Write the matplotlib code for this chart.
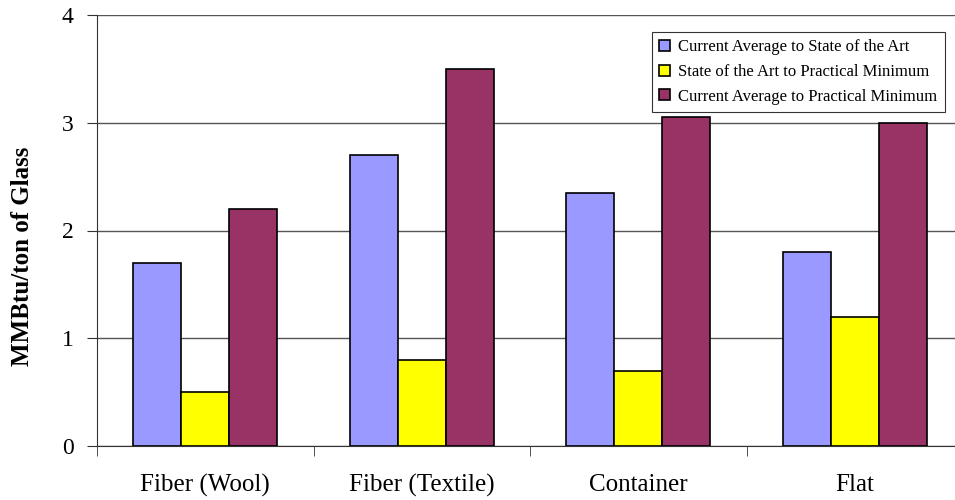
import matplotlib.pyplot as plt
import numpy as np

categories = ["Fiber (Wool)", "Fiber (Textile)", "Container", "Flat"]
series_names = ["Current Average to State of the Art",
                "State of the Art to Practical Minimum",
                "Current Average to Practical Minimum"]
cur_to_soa = [1.7, 2.7, 2.35, 1.8]
soa_to_min = [0.5, 0.8, 0.7, 1.2]
cur_to_min = [2.2, 3.5, 3.05, 3.0]
colors = ["#9999FF", "#FFFF00", "#993366"]

plt.rcParams['font.family'] = ['Liberation Serif', 'DejaVu Serif']

fig = plt.figure(figsize=(9.55, 5), dpi=100)
ax = fig.add_axes([97/955, 54/500, 866/955, 431/500])

x = np.arange(len(categories))
w = 0.222
for i, (vals, name) in enumerate(zip([cur_to_soa, soa_to_min, cur_to_min], series_names)):
    ax.bar(x + (i - 1) * w, vals, w, color=colors[i], edgecolor='black',
           linewidth=1.2, label=name, zorder=3)

ax.set_xlim(-0.5, 3.5)
ax.set_ylim(0, 4)
ax.set_yticks([0, 1, 2, 3, 4])
ax.yaxis.grid(True, color='#555555', linewidth=1.0, zorder=0)
ax.set_xticks(x)
ax.set_xticklabels(categories, fontsize=18)
ax.tick_params(axis='x', length=0, pad=20)
ax.set_xticks(np.arange(-0.5, 4, 1), minor=True)
ax.tick_params(axis='x', which='minor', length=7, direction='out', color='#333333')
ax.tick_params(axis='y', labelsize=17, length=7, direction='out', color='#333333', pad=10)

for s in ['top', 'right']:
    ax.spines[s].set_visible(False)
ax.spines['left'].set_color('#333333')
ax.spines['bottom'].set_color('#333333')

ax.set_ylabel("MMBtu/ton of Glass", fontsize=18, fontweight='bold')
ax.yaxis.set_label_coords(-0.073, 0.44)

leg = ax.legend(loc='upper right', bbox_to_anchor=(0.979, 0.961),
                fontsize=12, frameon=True, fancybox=False, edgecolor='black',
                handlelength=0.65, handleheight=0.65, handletextpad=0.5,
                borderpad=0.45, labelspacing=0.52, borderaxespad=0)
leg.get_frame().set_linewidth(0.8)

fig.savefig("out.png", dpi=100)
